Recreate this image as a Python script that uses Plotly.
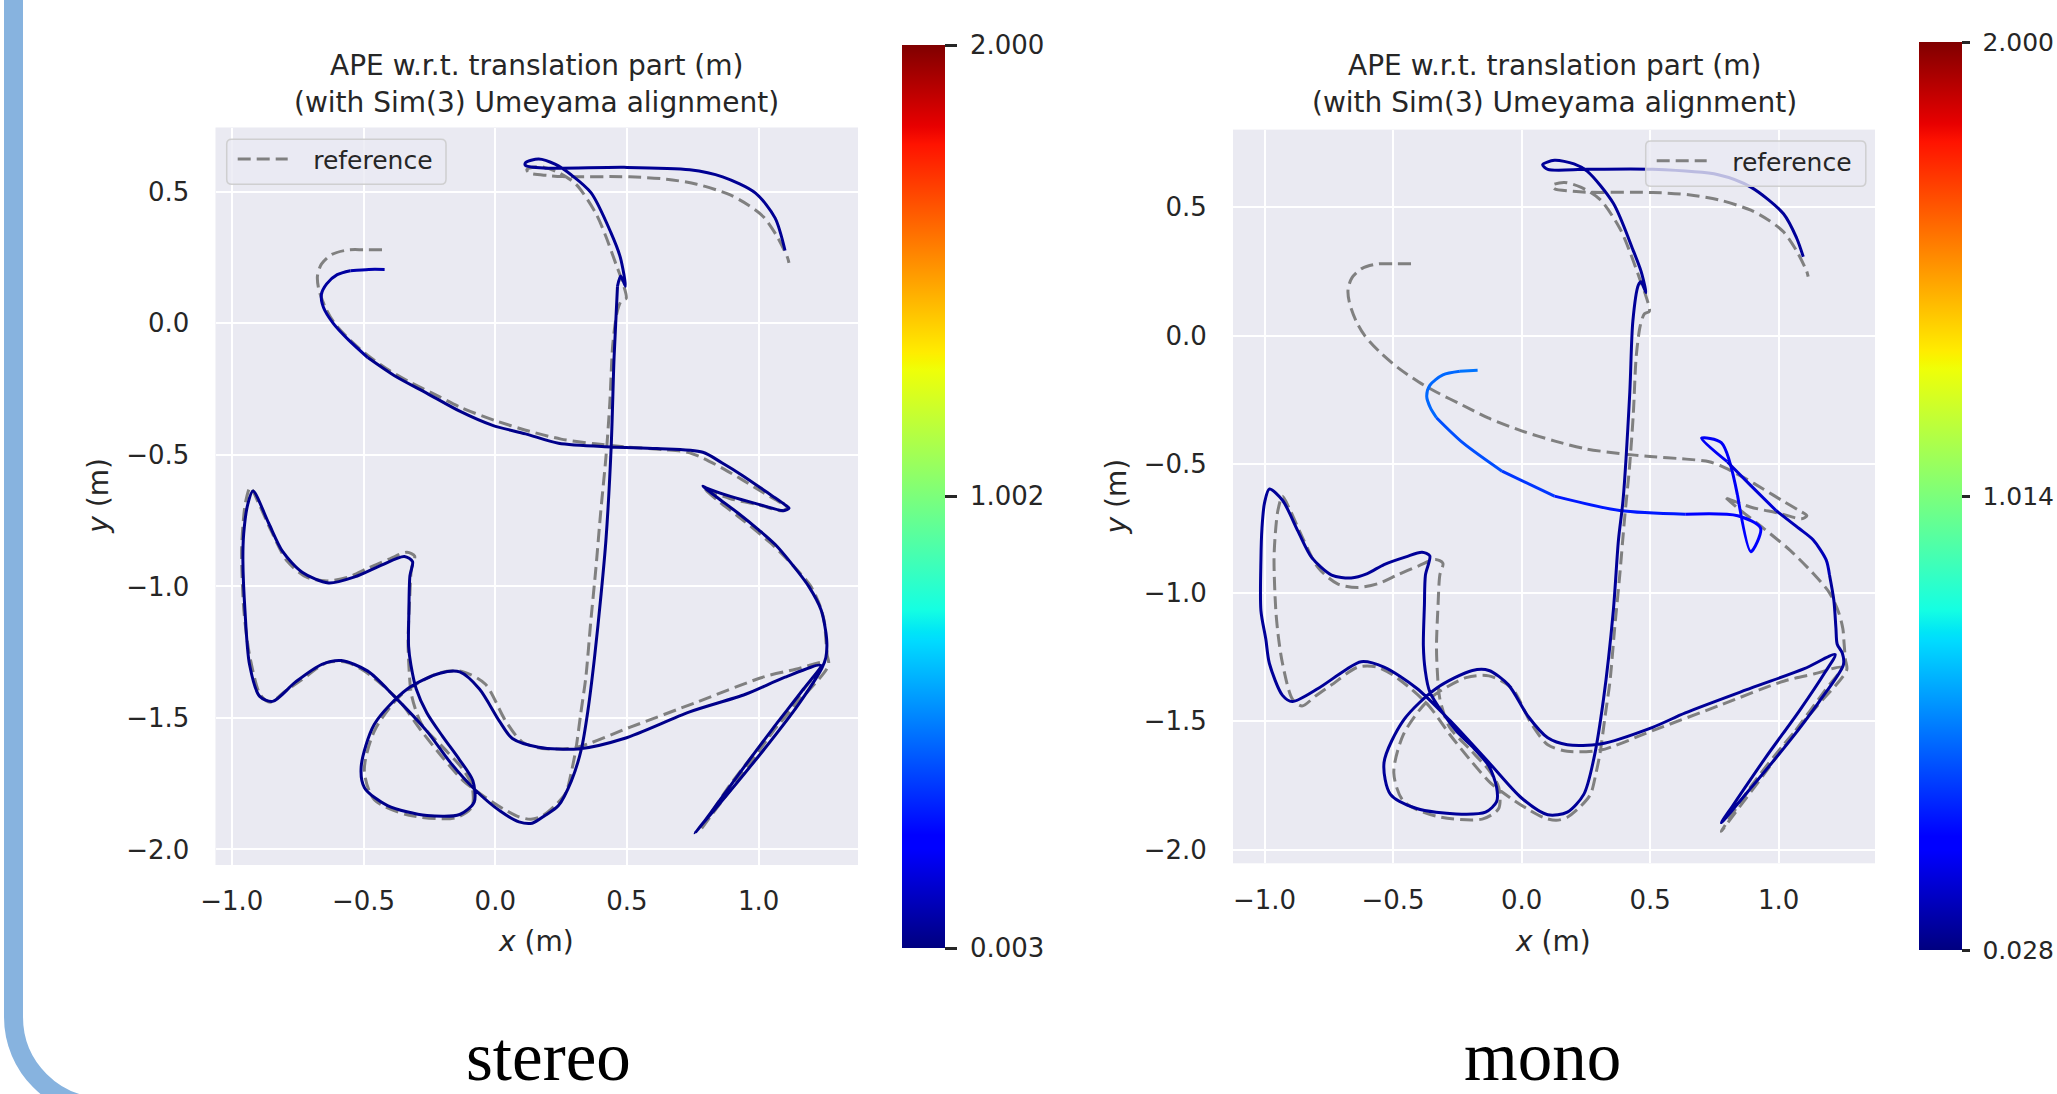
import numpy as np
import plotly.graph_objects as go
from plotly.colors import sample_colorscale

W, H = 2057, 1094
FONT = "DejaVu Sans"
TXT = "#262626"

# ---------------- data ----------------
ref_x = [-0.43, -0.50, -0.56, -0.62, -0.66, -0.675, -0.67, -0.645, -0.61, -0.55, -0.48, -0.40, -0.33, -0.23,
         -0.13, 0.0, 0.13, 0.25, 0.38, 0.50, 0.64, 0.73, 0.79, 0.87, 0.94, 1.02, 1.08, 1.11, 1.09, 1.0, 0.89,
         0.80, 0.79, 0.84, 0.93, 1.045, 1.13, 1.198, 1.235, 1.25, 1.255, 1.26, 1.265, 1.15, 1.02, 0.89, 0.777,
         0.82, 0.94, 1.07, 1.18, 1.245, 1.14, 1.019, 0.765, 0.51, 0.306, 0.178, 0.102, 0.038, -0.038, -0.127,
         -0.216, -0.357, -0.459, -0.497, -0.459, -0.331, -0.153, -0.089, -0.089, -0.127, -0.20, -0.28, -0.318,
         -0.328, -0.331, -0.325, -0.318, -0.306, -0.335, -0.40, -0.484, -0.56, -0.637, -0.714, -0.79, -0.85,
         -0.90, -0.93, -0.948, -0.958, -0.963, -0.956, -0.945, -0.93, -0.892, -0.854, -0.80, -0.739, -0.637,
         -0.562, -0.50, -0.433, -0.36, -0.28, -0.20, -0.12, -0.04, 0.03, 0.09, 0.135, 0.178, 0.23, 0.268, 0.29,
         0.306, 0.325, 0.344, 0.362, 0.382, 0.40, 0.421, 0.435, 0.446, 0.462, 0.478, 0.497, 0.482, 0.459, 0.42,
         0.382, 0.306, 0.23, 0.166, 0.12, 0.128, 0.20, 0.255, 0.51, 0.65, 0.765, 0.892, 0.96, 1.019, 1.07,
         1.109, 1.115]
ref_y = [0.28, 0.28, 0.279, 0.262, 0.225, 0.18, 0.13, 0.06, 0.00, -0.065, -0.125, -0.18, -0.22, -0.27,
         -0.32, -0.37, -0.41, -0.44, -0.458, -0.47, -0.48, -0.49, -0.513, -0.555, -0.596, -0.645, -0.68, -0.70,
         -0.712, -0.69, -0.666, -0.632, -0.625, -0.67, -0.74, -0.835, -0.92, -1.0, -1.08, -1.14, -1.2, -1.26,
         -1.30, -1.44, -1.59, -1.756, -1.928, -1.87, -1.71, -1.53, -1.38, -1.29, -1.315, -1.344, -1.44, -1.536,
         -1.612, -1.616, -1.591, -1.509, -1.371, -1.323, -1.33, -1.412, -1.55, -1.701, -1.811, -1.869, -1.88,
         -1.839, -1.756, -1.69, -1.61, -1.523, -1.412, -1.30, -1.206, -1.05, -0.931, -0.885, -0.87, -0.895,
         -0.931, -0.965, -0.979, -0.966, -0.904, -0.79, -0.68, -0.624, -0.68, -0.77, -0.872, -1.069, -1.18,
         -1.275, -1.412, -1.44, -1.40, -1.358, -1.289, -1.289, -1.32, -1.371, -1.44, -1.55, -1.65, -1.74, -1.80,
         -1.845, -1.876, -1.885, -1.873, -1.83, -1.784, -1.70, -1.619, -1.48, -1.344, -1.14, -0.931, -0.72,
         -0.499, -0.30, -0.082, 0.04, 0.085, 0.095, 0.16, 0.223, 0.33, 0.418, 0.529, 0.578, 0.596, 0.585, 0.572,
         0.562, 0.558, 0.557, 0.548, 0.529, 0.488, 0.45, 0.404, 0.33, 0.251, 0.23]

stereo_x = [-0.42, -0.48, -0.55, -0.60, -0.64, -0.66, -0.652, -0.615, -0.558, -0.484, -0.384, -0.259, -0.135,
            -0.01, 0.115, 0.24, 0.44, 0.613, 0.788, 0.86, 0.938, 1.05, 1.10, 1.115, 1.095, 1.0, 0.89, 0.80, 0.788,
            0.84, 0.92, 1.0, 1.062, 1.13, 1.19, 1.237, 1.258, 1.255, 1.24, 1.15, 1.02, 0.89, 0.758, 0.80, 0.92,
            1.05, 1.17, 1.235, 1.10, 0.95, 0.738, 0.489, 0.314, 0.165, 0.065, 0.015, -0.06, -0.135, -0.21, -0.334,
            -0.459, -0.509, -0.496, -0.409, -0.259, -0.135, -0.08, -0.085, -0.135, -0.20, -0.26, -0.30, -0.32,
            -0.329, -0.328, -0.324, -0.314, -0.345, -0.434, -0.534, -0.633, -0.733, -0.808, -0.86, -0.92, -0.94,
            -0.955, -0.958, -0.95, -0.933, -0.895, -0.845, -0.758, -0.658, -0.584, -0.484, -0.384, -0.259, -0.17,
            -0.08, 0.02, 0.09, 0.14, 0.19, 0.24, 0.289, 0.327, 0.352, 0.377, 0.402, 0.42, 0.44, 0.451, 0.464,
            0.476, 0.494, 0.475, 0.439, 0.364, 0.289, 0.227, 0.165, 0.115, 0.115, 0.19, 0.489, 0.738, 0.863,
            0.987, 1.062, 1.10]
stereo_y = [0.205, 0.205, 0.20, 0.185, 0.15, 0.11, 0.06, 0.0, -0.062, -0.13, -0.198, -0.266, -0.334, -0.388,
            -0.42, -0.456, -0.47, -0.476, -0.49, -0.53, -0.578, -0.655, -0.69, -0.703, -0.712, -0.688, -0.657,
            -0.625, -0.619, -0.66, -0.72, -0.785, -0.84, -0.92, -1.0, -1.09, -1.2, -1.27, -1.31, -1.45, -1.62,
            -1.78, -1.938, -1.885, -1.72, -1.545, -1.39, -1.30, -1.345, -1.41, -1.477, -1.578, -1.618, -1.611,
            -1.578, -1.511, -1.39, -1.325, -1.33, -1.39, -1.524, -1.685, -1.766, -1.833, -1.871, -1.867, -1.82,
            -1.739, -1.66, -1.57, -1.48, -1.39, -1.30, -1.228, -1.10, -0.96, -0.906, -0.886, -0.92, -0.964, -0.987,
            -0.946, -0.866, -0.76, -0.637, -0.69, -0.80, -0.902, -1.094, -1.296, -1.417, -1.437, -1.363, -1.296,
            -1.282, -1.322, -1.417, -1.551, -1.67, -1.77, -1.855, -1.895, -1.90, -1.87, -1.833, -1.739, -1.618,
            -1.47, -1.269, -1.027, -0.826, -0.47, -0.13, 0.141, 0.18, 0.141, 0.25, 0.345, 0.496, 0.564, 0.605,
            0.625, 0.611, 0.60, 0.59, 0.593, 0.584, 0.557, 0.496, 0.401, 0.277]
stereo_ape = [0.08, 0.08, 0.08, 0.075, 0.07, 0.06, 0.05, 0.04, 0.03, 0.03, 0.02, 0.02, 0.02, 0.02, 0.02,
              0.02, 0.02, 0.02, 0.02, 0.02, 0.02, 0.02, 0.02, 0.02, 0.02, 0.02, 0.02, 0.02, 0.02, 0.02, 0.02,
              0.02, 0.02, 0.02, 0.02, 0.02, 0.02, 0.02, 0.02, 0.02, 0.02, 0.02, 0.02, 0.02, 0.02, 0.02, 0.02,
              0.02, 0.02, 0.02, 0.02, 0.02, 0.02, 0.02, 0.02, 0.02, 0.02, 0.02, 0.02, 0.02, 0.02, 0.02, 0.02,
              0.02, 0.02, 0.02, 0.02, 0.02, 0.02, 0.02, 0.02, 0.02, 0.02, 0.02, 0.02, 0.02, 0.02, 0.02, 0.02,
              0.02, 0.02, 0.02, 0.02, 0.02, 0.02, 0.02, 0.02, 0.02, 0.02, 0.02, 0.02, 0.02, 0.02, 0.02, 0.02,
              0.02, 0.02, 0.02, 0.02, 0.02, 0.02, 0.02, 0.02, 0.02, 0.02, 0.02, 0.02, 0.02, 0.02, 0.02, 0.02,
              0.02, 0.02, 0.03, 0.03, 0.03, 0.03, 0.03, 0.03, 0.03, 0.03, 0.04, 0.04, 0.04, 0.04, 0.04, 0.04,
              0.04, 0.04, 0.04, 0.04, 0.04, 0.05]

mono_x = [-0.171, -0.24, -0.306, -0.357, -0.369, -0.355, -0.331, -0.229, -0.076, 0.128, 0.382, 0.637, 0.841,
          0.93, 0.892, 0.84, 0.777, 0.70, 0.80, 0.892, 0.99, 1.08, 1.134, 1.185, 1.198, 1.215, 1.223, 1.228,
          1.248, 1.252, 1.16, 1.04, 0.90, 0.777, 0.82, 0.95, 1.08, 1.18, 1.22, 1.10, 0.892, 0.637, 0.51, 0.306,
          0.178, 0.102, 0.026, -0.051, -0.127, -0.191, -0.331, -0.459, -0.535, -0.51, -0.408, -0.255, -0.14,
          -0.097, -0.097, -0.127, -0.19, -0.255, -0.357, -0.375, -0.382, -0.378, -0.374, -0.357, -0.387, -0.45,
          -0.535, -0.60, -0.663, -0.739, -0.816, -0.87, -0.93, -0.981, -1.0, -1.01, -1.014, -1.014, -0.995,
          -0.981, -0.93, -0.892, -0.79, -0.688, -0.624, -0.535, -0.408, -0.28, -0.127, 0.0, 0.102, 0.178, 0.242,
          0.281, 0.319, 0.357, 0.377, 0.395, 0.421, 0.433, 0.454, 0.464, 0.484, 0.465, 0.433, 0.357, 0.255,
          0.204, 0.128, 0.082, 0.102, 0.255, 0.51, 0.765, 0.892, 1.019, 1.07, 1.096]
mono_y = [-0.134, -0.138, -0.152, -0.193, -0.235, -0.28, -0.319, -0.416, -0.527, -0.624, -0.68, -0.694, -0.70,
          -0.749, -0.84, -0.62, -0.416, -0.399, -0.49, -0.583, -0.68, -0.75, -0.794, -0.872, -0.931, -1.03,
          -1.137, -1.20, -1.235, -1.28, -1.42, -1.58, -1.75, -1.894, -1.83, -1.64, -1.46, -1.31, -1.24, -1.295,
          -1.371, -1.467, -1.523, -1.588, -1.591, -1.564, -1.481, -1.358, -1.302, -1.302, -1.371, -1.495, -1.66,
          -1.784, -1.839, -1.86, -1.853, -1.812, -1.757, -1.674, -1.60, -1.536, -1.385, -1.30, -1.206, -1.05,
          -0.931, -0.856, -0.842, -0.86, -0.89, -0.925, -0.942, -0.931, -0.863, -0.76, -0.64, -0.596, -0.65,
          -0.75, -0.872, -1.069, -1.18, -1.275, -1.399, -1.423, -1.371, -1.302, -1.268, -1.289, -1.371, -1.495,
          -1.66, -1.798, -1.863, -1.853, -1.784, -1.646, -1.412, -1.069, -0.794, -0.638, -0.221, 0.057, 0.196,
          0.21, 0.168, 0.25, 0.335, 0.515, 0.64, 0.668, 0.682, 0.665, 0.647, 0.647, 0.647, 0.626, 0.578, 0.474,
          0.38, 0.307]
mono_ape = [0.50, 0.50, 0.49, 0.48, 0.47, 0.46, 0.45, 0.43, 0.40, 0.36, 0.32, 0.28, 0.26, 0.25, 0.25, 0.25,
            0.24, 0.23, 0.20, 0.18, 0.15, 0.13, 0.12, 0.11, 0.10, 0.09, 0.08, 0.08, 0.08, 0.08, 0.07, 0.07, 0.07,
            0.07, 0.07, 0.07, 0.07, 0.07, 0.07, 0.07, 0.07, 0.07, 0.07, 0.06, 0.06, 0.06, 0.06, 0.06, 0.06, 0.06,
            0.06, 0.06, 0.06, 0.06, 0.06, 0.06, 0.06, 0.06, 0.06, 0.06, 0.06, 0.06, 0.06, 0.06, 0.06, 0.06, 0.06,
            0.06, 0.06, 0.06, 0.06, 0.06, 0.06, 0.06, 0.06, 0.06, 0.06, 0.06, 0.06, 0.06, 0.06, 0.06, 0.06, 0.06,
            0.06, 0.06, 0.06, 0.06, 0.06, 0.06, 0.06, 0.06, 0.06, 0.06, 0.06, 0.06, 0.06, 0.06, 0.06, 0.06, 0.06,
            0.06, 0.07, 0.07, 0.08, 0.08, 0.08, 0.08, 0.08, 0.09, 0.09, 0.09, 0.10, 0.10, 0.10, 0.10, 0.10, 0.10,
            0.10, 0.08, 0.07, 0.06]

stereo_cbar_vals = [0.003, 1.002, 2.000]
stereo_cbar_text = ["0.003", "1.002", "2.000"]
mono_cbar_vals = [0.028, 1.014, 2.000]
mono_cbar_text = ["0.028", "1.014", "2.000"]

x_tick_vals = [-1.0, -0.5, 0.0, 0.5, 1.0]
x_tick_text = ["\u22121.0", "\u22120.5", "0.0", "0.5", "1.0"]
y_tick_vals = [-2.0, -1.5, -1.0, -0.5, 0.0, 0.5]
y_tick_text = ["\u22122.0", "\u22121.5", "\u22121.0", "\u22120.5", "0.0", "0.5"]

title_line1 = "APE w.r.t. translation part (m)"
title_line2 = "(with Sim(3) Umeyama alignment)"
x_label = "<i>x</i> (m)"
y_label = "<i>y</i> (m)"
legend_label = "reference"
captions = ["stereo", "mono"]

# ---------------- colormap (matplotlib jet) ----------------
bp = [0, 0.11, 0.125, 0.34, 0.35, 0.375, 0.64, 0.65, 0.66, 0.89, 0.91, 1.0]
jr = np.interp(bp, [0, 0.35, 0.66, 0.89, 1], [0, 0, 1, 1, 0.5])
jg = np.interp(bp, [0, 0.125, 0.375, 0.64, 0.91, 1], [0, 0, 1, 1, 0, 0])
jb = np.interp(bp, [0, 0.11, 0.34, 0.65, 1], [0.5, 1, 1, 0, 0])
JET = [[p, "rgb(%d,%d,%d)" % (round(r * 255), round(g * 255), round(b * 255))]
       for p, r, g, b in zip(bp, jr, jg, jb)]


def X(px):
    return px / W


def Y(py):
    return 1 - py / H


fig = go.Figure()


def add_reference(xa, ya, legend):
    fig.add_trace(go.Scatter(
        x=ref_x, y=ref_y, mode="lines", name="\u2002\u00a0" + legend_label, legend=legend,
        line=dict(color="#808080", width=3, dash="13px,6px", shape="spline", smoothing=0.8),
        xaxis=xa, yaxis=ya, hoverinfo="skip"))


def add_estimate(xs, ys, es, lo, hi, xa, ya, nb=40):
    t = [(e - lo) / (hi - lo) for e in es]
    seg_bins = [int(round((t[i] + t[i + 1]) / 2 * nb)) for i in range(len(xs) - 1)]
    i = 0
    while i < len(seg_bins):
        j = i
        while j + 1 < len(seg_bins) and seg_bins[j + 1] == seg_bins[i]:
            j += 1
        tv = sum(t[i:j + 2]) / (j + 2 - i)
        color = sample_colorscale(JET, [min(max(tv, 0), 1)])[0]
        fig.add_trace(go.Scatter(
            x=xs[i:j + 2], y=ys[i:j + 2], mode="lines",
            line=dict(color=color, width=3, shape="spline", smoothing=0.8),
            xaxis=xa, yaxis=ya, showlegend=False, hoverinfo="skip"))
        i = j + 1


def add_colorbar(vals, text, xa, ya, left_px, top_px, bot_px, ticklen, fsize):
    fig.add_trace(go.Scatter(
        x=[ref_x[0], ref_x[0]], y=[ref_y[0], ref_y[0]], mode="markers", showlegend=False, hoverinfo="skip",
        xaxis=xa, yaxis=ya,
        marker=dict(size=1, opacity=0, color=[vals[0], vals[-1]], cmin=vals[0], cmax=vals[-1],
                    colorscale=JET, showscale=True,
                    colorbar=dict(x=X(left_px), xanchor="left", xref="paper",
                                  y=Y(top_px), yanchor="top", yref="paper",
                                  len=bot_px - top_px, lenmode="pixels",
                                  thickness=43, thicknessmode="pixels",
                                  xpad=0, ypad=0, outlinewidth=0,
                                  tickvals=vals, ticktext=["\u00a0" + s for s in text], ticks="outside",
                                  ticklen=ticklen, tickwidth=3, tickcolor=TXT,
                                  tickfont=dict(family=FONT, size=fsize, color=TXT)))))


add_reference("x", "y", "legend")
add_estimate(stereo_x, stereo_y, stereo_ape, stereo_cbar_vals[0], stereo_cbar_vals[-1], "x", "y")
add_colorbar(stereo_cbar_vals, stereo_cbar_text, "x", "y", 902, 45, 948, 12, 26)

add_reference("x2", "y2", "legend2")
add_estimate(mono_x, mono_y, mono_ape, mono_cbar_vals[0], mono_cbar_vals[-1], "x2", "y2")
add_colorbar(mono_cbar_vals, mono_cbar_text, "x2", "y2", 1918.5, 42, 950, 8, 25)

tickfont = dict(family=FONT, size=26, color=TXT)
ax_common = dict(showgrid=True, gridcolor="white", gridwidth=2, zeroline=False, showline=False,
                 ticks="outside", tickcolor="rgba(0,0,0,0)", tickfont=tickfont, automargin=False,
                 fixedrange=True)

panels = [
    dict(l=215.5, r=858, t=127.5, b=865, xr=[-1.062, 1.377], yr=[-2.059, 0.7445]),
    dict(l=1233, r=1875, t=129.6, b=863.3, xr=[-1.1226, 1.375], yr=[-2.052, 0.8016]),
]

layout_axes = {}
for k, p in enumerate(panels):
    sx = "" if k == 0 else "2"
    layout_axes["xaxis" + sx] = dict(ax_common, domain=[X(p["l"]), X(p["r"])], range=p["xr"],
                                     anchor="y" + sx, tickvals=x_tick_vals, ticktext=x_tick_text, ticklen=13)
    layout_axes["yaxis" + sx] = dict(ax_common, domain=[Y(p["b"]), Y(p["t"])], range=p["yr"],
                                     anchor="x" + sx, tickvals=y_tick_vals, ticktext=y_tick_text, ticklen=20)

annotations = []
shapes = []
legend_boxes = [(226.7, 139.3, 446, 184.3), (1645.7, 141, 1865.8, 186.2)]
caption_x = [548, 1542]
for k, p in enumerate(panels):
    cx = (p["l"] + p["r"]) / 2
    annotations.append(dict(text=title_line1, x=X(cx), y=Y(66), xref="paper", yref="paper",
                            xanchor="center", yanchor="middle", showarrow=False,
                            font=dict(family=FONT, size=28, color=TXT)))
    annotations.append(dict(text=title_line2, x=X(cx), y=Y(102), xref="paper", yref="paper",
                            xanchor="center", yanchor="middle", showarrow=False,
                            font=dict(family=FONT, size=28, color=TXT)))
    annotations.append(dict(text=x_label, x=X(cx - 1), y=Y(941), xref="paper", yref="paper",
                            xanchor="center", yanchor="middle", showarrow=False,
                            font=dict(family=FONT, size=28, color=TXT)))
    annotations.append(dict(text=y_label, x=X(p["l"] - 117), y=Y((p["t"] + p["b"]) / 2), xref="paper",
                            yref="paper", xanchor="center", yanchor="middle", showarrow=False, textangle=-90,
                            font=dict(family=FONT, size=28, color=TXT)))
    annotations.append(dict(text=captions[k], x=X(caption_x[k]), y=Y(1057), xref="paper", yref="paper",
                            xanchor="center", yanchor="middle", showarrow=False,
                            font=dict(family="Liberation Serif", size=69, color="black")))
    x0, y0, x1, y1 = legend_boxes[k]
    r = 5
    path = ("M {a},{b} L {c},{b} Q {d},{b} {d},{e} L {d},{f} Q {d},{g} {c},{g} L {a},{g} "
            "Q {h},{g} {h},{f} L {h},{e} Q {h},{b} {a},{b} Z").format(
        a=X(x0 + r), b=Y(y0), c=X(x1 - r), d=X(x1), e=Y(y0 + r), f=Y(y1 - r), g=Y(y1), h=X(x0))
    shapes.append(dict(type="path", path=path, xref="paper", yref="paper", layer="above",
                       fillcolor="rgba(234,234,242,0.8)", line=dict(color="rgba(204,204,204,0.9)", width=1.5)))

# light-blue frame on the left edge
k_c = 0.5523
frame = "M {x0},{ya} L {x0},{yb} C {x0},{yc} {xd},{ye} {xf},{ye} L {xg},{ye}".format(
    x0=X(13.5), ya=Y(-30), yb=Y(1017), yc=Y(1017 + 90 * k_c), xd=X(103.5 - 90 * k_c),
    ye=Y(1107), xf=X(103.5), xg=X(2300))
shapes.append(dict(type="path", path=frame, xref="paper", yref="paper", layer="above",
                   fillcolor="rgba(0,0,0,0)", line=dict(color="#87B3DF", width=19)))

legend_common = dict(xanchor="left", yanchor="top", bgcolor="rgba(0,0,0,0)", borderwidth=0,
                     font=dict(family=FONT, size=25, color=TXT), itemwidth=50, xref="paper", yref="paper")

fig.update_layout(
    width=W, height=H,
    margin=dict(l=0, r=0, t=0, b=0, pad=0, autoexpand=False),
    paper_bgcolor="white", plot_bgcolor="#EAEAF2",
    showlegend=True,
    legend=dict(legend_common, x=X(legend_boxes[0][0] + 6), y=Y(legend_boxes[0][1] - 3)),
    legend2=dict(legend_common, x=X(legend_boxes[1][0] + 6), y=Y(legend_boxes[1][1] - 3)),
    annotations=annotations, shapes=shapes,
    **layout_axes,
)

fig.write_html("out.html", config={"displayModeBar": False},
               post_script="document.body.style.margin='0px';document.body.style.overflow='hidden';")
